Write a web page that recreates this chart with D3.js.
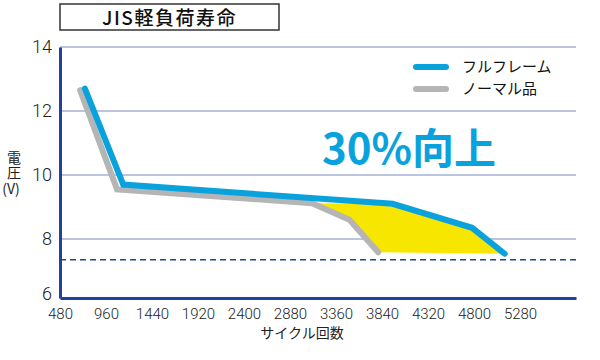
<!DOCTYPE html>
<html><head><meta charset="utf-8">
<script src="https://cdn.jsdelivr.net/npm/d3@7/dist/d3.min.js"></script>
<style>body{margin:0;background:#fff}svg{display:block;font-family:"Noto Sans CJK JP","Noto Sans",sans-serif}</style>
</head><body><svg id="c" width="600" height="360"></svg>
<script>
const title = "JIS軽負荷寿命";
const xTicks = [480, 960, 1440, 1920, 2400, 2880, 3360, 3840, 4320, 4800, 5280];
const yTicks = [6, 8, 10, 12, 14];
const seriesNames = ["フルフレーム", "ノーマル品"];
const fullCycles = [740, 1140, 3950, 4780, 5120];
const fullVolts = [12.7, 9.7, 9.1, 8.35, 7.5];
const normalCycles = [690, 1075, 3110, 3500, 3800];
const normalVolts = [12.65, 9.55, 9.12, 8.6, 7.55];
const limitVolt = 7.3;
const annotation = "30%向上";
const xTitle = "サイクル回数";
const yTitle = ["電", "圧", "(V)"];

const svg = d3.select("#c");
const x = d3.scaleLinear().domain([480, 5864]).range([60, 576]);
const y = d3.scaleLinear().domain([6, 8, 14]).range([298, 239, 47]);
const blue = "#0aa2dc", gray = "#b5b5b5", axisC = "#23409a", gridC = "#7788c0";

// grid
svg.append("g").selectAll("line").data(yTicks.filter(v => v > 6)).join("line")
  .attr("x1", x(480)).attr("x2", x(5864)).attr("y1", d => y(d)).attr("y2", d => y(d))
  .attr("stroke", gridC).attr("stroke-width", 1);

// limit dashed
svg.append("line").attr("x1", x(480)).attr("x2", x(5864))
  .attr("y1", y(limitVolt)).attr("y2", y(limitVolt))
  .attr("stroke", axisC).attr("stroke-width", 1.5).attr("stroke-dasharray", "6,4");

const full = fullCycles.map((c, i) => [c, fullVolts[i]]);
const normal = normalCycles.map((c, i) => [c, normalVolts[i]]);

// yellow area between lines
const poly = full.slice(2).concat(normal.slice(2).reverse());
svg.append("path").attr("d", d3.line().x(d => x(d[0])).y(d => y(d[1]))(poly) + "Z")
  .attr("fill", "#f7e600");

const line = d3.line().x(d => x(d[0])).y(d => y(d[1]));
svg.append("path").attr("d", line(normal)).attr("fill", "none").attr("stroke", gray)
  .attr("stroke-width", 6).attr("stroke-linecap", "round");
svg.append("path").attr("d", line(full)).attr("fill", "none").attr("stroke", blue)
  .attr("stroke-width", 6).attr("stroke-linecap", "round");

// axes
const xAxis = svg.append("g").attr("transform", `translate(0,${y(6)})`)
  .call(d3.axisBottom(x).tickValues(xTicks).tickFormat(d3.format("d")).tickSize(0).tickPadding(10));
xAxis.select(".domain").attr("stroke", axisC).attr("stroke-width", 3);
xAxis.selectAll("text").attr("font-size", 15).attr("fill", "#222").attr("font-weight", 300)
  .attr("font-family", "Roboto, 'Noto Sans', sans-serif");

const yAxis = svg.append("g").attr("transform", `translate(${x(480)},0)`)
  .call(d3.axisLeft(y).tickValues(yTicks).tickSize(0).tickPadding(8));
yAxis.select(".domain").attr("stroke", axisC).attr("stroke-width", 3);
yAxis.selectAll("text").attr("font-size", 18).attr("fill", "#222")
  .attr("font-family", "Roboto, 'Noto Sans', sans-serif").attr("font-weight", 300);
yAxis.selectAll(".tick").filter(d => d === 6).select("text").attr("dy", "0.1em");

// title box
svg.append("rect").attr("x", 60).attr("y", 4).attr("width", 219).attr("height", 26)
  .attr("fill", "#fff").attr("stroke", "#333").attr("stroke-width", 1.5);
svg.append("text").attr("x", 169.5).attr("y", 25).attr("text-anchor", "middle")
  .attr("font-size", 19).attr("font-weight", 500).attr("letter-spacing", 1.5).attr("fill", "#111").text(title);

// axis titles
svg.append("text").attr("x", 302).attr("y", 338).attr("text-anchor", "middle")
  .attr("font-size", 14).attr("fill", "#222").text(xTitle);
svg.append("g").selectAll("text").data(yTitle).join("text")
  .attr("x", (d, i) => i < 2 ? 14 : 11).attr("y", (d, i) => [163, 178, 194][i])
  .attr("text-anchor", "middle").attr("font-size", 14).attr("fill", "#222").text(d => d);

// legend
const lg = svg.append("g");
[blue, gray].forEach((c, i) => {
  lg.append("line").attr("x1", 416).attr("x2", 446).attr("y1", 67 + i * 22).attr("y2", 67 + i * 22)
    .attr("stroke", c).attr("stroke-width", 6).attr("stroke-linecap", "round");
  lg.append("text").attr("x", 462).attr("y", 67 + i * 22).attr("dy", "0.36em")
    .attr("font-size", 15).attr("fill", "#111").text(seriesNames[i]);
});

// annotation
svg.append("text").attr("x", 322).attr("y", 164).attr("font-size", 42).attr("font-weight", 700)
  .attr("fill", blue).text(annotation);
</script></body></html>
